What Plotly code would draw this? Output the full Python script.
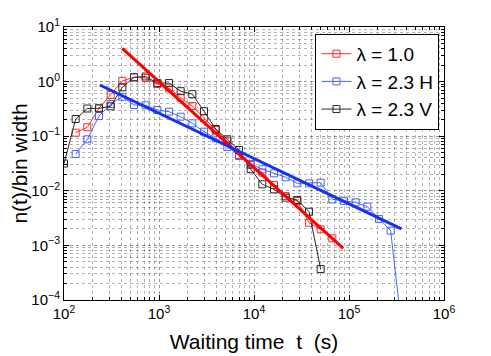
import plotly.graph_objects as go

# bin centres (s), shared by all three series
t_bins = [100, 132.7, 176.1, 233.6, 309.9, 411.2, 545.6, 723.8, 960.3, 1274,
          1690, 2243, 2976, 3948, 5238, 6950, 9222, 12235, 16233, 21538,
          28576, 37914, 50304, 66742, 88553, 117490, 155883, 206820, 274400, 364080]

# lambda = 1.0 (bins 1..23)
t_red = t_bins[1:24]
n_red = [0.116, 0.146, 0.324, 0.569, 1.03, 1.2, 1.16, 0.904, 0.754, 0.507,
         0.357, 0.213, 0.13, 0.0807, 0.0434, 0.0297, 0.0216, 0.0128, 0.0080,
         0.0065, 0.0026, 0.00197, 0.00135]

# lambda = 2.3 H (bins 1..29)
t_blue = t_bins[1:30]
n_blue = [0.0472, 0.0877, 0.234, 0.389, 0.528, 0.373, 0.368, 0.302, 0.281,
          0.2275, 0.172, 0.121, 0.0916, 0.0634, 0.0453, 0.031, 0.0248, 0.0209,
          0.0177, 0.0137, 0.0137, 0.0141, 0.00698, 0.00646, 0.00615, 0.00512,
          0.00305, 0.00186, 0.000025]

# lambda = 2.3 V (bins 0..22)
t_black = t_bins[0:23]
n_black = [0.0316, 0.2065, 0.321, 0.324, 0.353, 0.787, 1.2, 1.24, 0.94, 0.94,
           0.667, 0.588, 0.287, 0.1355, 0.0877, 0.0558, 0.0248, 0.01315,
           0.01064, 0.00748, 0.00679, 0.00414, 0.00037]

# power-law fits (end points)
fit_red_t = [410, 86900]
fit_red_n = [4.07, 8.85e-4]
fit_blue_t = [238, 357000]
fit_blue_n = [0.867, 0.002]

# tick labels
x_ticks = [1e2, 1e3, 1e4, 1e5, 1e6]
x_labels = ["10<sup>2</sup>", "10<sup>3</sup>", "10<sup>4</sup>", "10<sup>5</sup>", "10<sup>6</sup>"]
y_ticks = [1e-4, 1e-3, 1e-2, 1e-1, 1e0, 1e1]
y_labels = ["10<sup>−4</sup>", "10<sup>−3</sup>", "10<sup>−2</sup>", "10<sup>−1</sup>",
            "10<sup>0</sup>", "10<sup>1</sup>"]

# minor ticks at 2..9 within every decade
x_minor = [m * d for d in x_ticks[:-1] for m in range(2, 10)]
y_minor = [m * d for d in y_ticks[:-1] for m in range(2, 10)]

FONT = "Liberation Sans, Arial, sans-serif"

fig = go.Figure()

series = [
    ("λ = 1.0", t_red, n_red, "rgb(255,40,40)"),
    ("λ = 2.3 H", t_blue, n_blue, "rgb(70,100,255)"),
    ("λ = 2.3 V", t_black, n_black, "rgb(40,40,40)"),
]
for name, t, n, col in series:
    fig.add_trace(go.Scatter(
        x=t, y=n, name=name, mode="lines+markers",
        line=dict(color=col, width=1),
        marker=dict(symbol="square-open", size=7, color=col, line=dict(width=1)),
    ))

fig.add_trace(go.Scatter(x=fit_red_t, y=fit_red_n, mode="lines", showlegend=False,
                         line=dict(color="rgb(255,0,0)", width=3)))
fig.add_trace(go.Scatter(x=fit_blue_t, y=fit_blue_n, mode="lines", showlegend=False,
                         line=dict(color="rgb(20,50,240)", width=3)))

axis_common = dict(
    type="log", showline=True, linecolor="black", linewidth=1, mirror="allticks",
    ticks="inside", ticklen=5, tickcolor="black", automargin=False,
    showgrid=True, gridcolor="rgba(0,0,0,0.4)", griddash="dot", gridwidth=1,
    zeroline=False, tickfont=dict(size=15, color="black", family=FONT),
)
minor_common = dict(ticks="inside", ticklen=3, tickcolor="black", showgrid=True,
                    gridcolor="rgba(0,0,0,0.3)", griddash="dot", gridwidth=1)

fig.update_xaxes(range=[2, 6], tickvals=x_ticks, ticktext=x_labels,
                 minor=dict(tickvals=x_minor, **minor_common),
                 title=dict(text="Waiting time  t  (s)", standoff=13,
                            font=dict(size=21, color="black", family=FONT)),
                 **axis_common)
fig.update_yaxes(range=[-4, 1], tickvals=y_ticks, ticktext=y_labels,
                 minor=dict(tickvals=y_minor, **minor_common),
                 title=dict(text="n(t)/bin width", standoff=0,
                            font=dict(size=21, color="black", family=FONT)),
                 **axis_common)

# the page body adds an 8px offset, so the figure is 8px smaller than the window
fig.update_layout(
    width=483, height=348,
    margin=dict(l=56, r=47, t=19, b=56),
    paper_bgcolor="white", plot_bgcolor="white",
    font=dict(family=FONT, color="black"),
    legend=dict(x=0.988, y=0.975, xanchor="right", yanchor="top",
                bgcolor="white", bordercolor="black", borderwidth=1,
                font=dict(size=19, family=FONT, color="black")),
)

fig.write_html("out.html")
